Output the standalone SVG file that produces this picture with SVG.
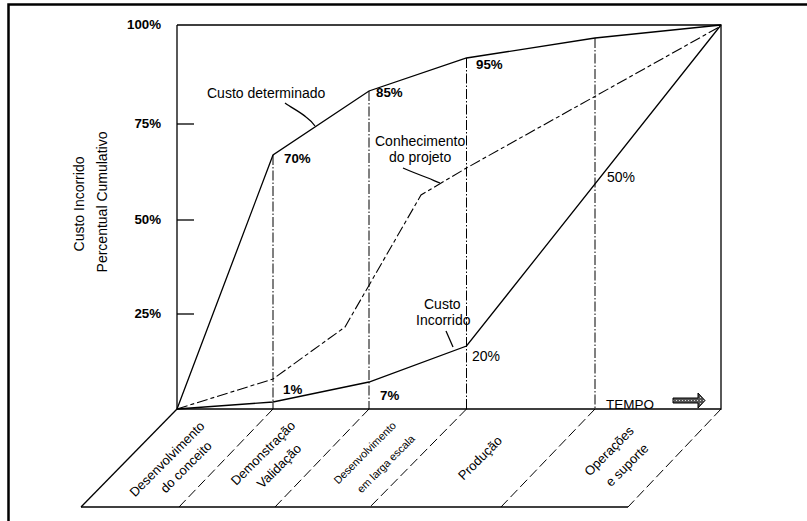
<svg xmlns="http://www.w3.org/2000/svg" width="807" height="521" viewBox="0 0 807 521">
<style>
text{font-family:"Liberation Sans",Arial,sans-serif;fill:#000}
.b{font-weight:bold;font-size:13.3px}
.r{font-size:14px}
.p{font-size:13px}
.s{font-size:10.8px}
.ln{fill:none;stroke:#000;stroke-width:1.3}
.dv{fill:none;stroke:#000;stroke-width:1;stroke-dasharray:10,2,1.5,2}
.dd{fill:none;stroke:#000;stroke-width:1;stroke-dasharray:10,4}
.kn{fill:none;stroke:#000;stroke-width:1.1;stroke-dasharray:11,3,4,3}
</style>
<defs>
<pattern id="hatch" width="3" height="3" patternUnits="userSpaceOnUse">
<rect width="3" height="3" fill="#555"/>
<rect x="1" y="1" width="1" height="1" fill="#ddd"/>
</pattern>
</defs>
<rect width="807" height="521" fill="#fff"/>
<rect x="8.5" y="4.5" width="900" height="600" fill="none" stroke="#000" stroke-width="2.5"/>

<g id="axes">
<polyline class="ln" points="177,25 721,25 721,409 177,409 177,25"/>
<line class="ln" x1="177" y1="124" x2="194" y2="124"/>
<line class="ln" x1="177" y1="220" x2="194" y2="220"/>
<line class="ln" x1="177" y1="314" x2="194" y2="314"/>
<text class="b" x="161" y="29" text-anchor="end">100%</text>
<text class="b" x="161" y="128" text-anchor="end">75%</text>
<text class="b" x="161" y="224" text-anchor="end">50%</text>
<text class="b" x="161" y="318" text-anchor="end">25%</text>
<text class="r" transform="translate(84,204) rotate(-90)" text-anchor="middle">Custo Incorrido</text>
<text class="r" transform="translate(107,202) rotate(-90)" text-anchor="middle">Percentual Cumulativo</text>
</g>

<g id="connectors">
<line class="dv" x1="273" y1="155" x2="273" y2="409"/>
<line class="dv" x1="369" y1="91" x2="369" y2="409"/>
<line class="dv" x1="466.5" y1="58" x2="466.5" y2="409"/>
<line class="dv" x1="595" y1="38" x2="595" y2="409"/>
</g>

<g id="custo-determinado">
<polyline class="ln" points="177,409 273,155 369,91 466.5,58 595,38 721,25"/>
<text class="r" x="207" y="98">Custo determinado</text>
<path class="ln" d="M285,103 C292,108 300,112 306,117 C310,120 313,123 315,126" stroke-width="1"/>
<text class="b" x="284" y="163">70%</text>
<text class="b" x="376" y="97">85%</text>
<text class="b" x="476" y="69">95%</text>
</g>

<g id="conhecimento">
<polyline class="kn" points="177,409 273,379 345,327 421,195 466.5,168 721,26"/>
<text class="r" x="375" y="146">Conhecimento</text>
<text class="r" x="389" y="162">do projeto</text>
<path class="ln" d="M403,168 C412,172 420,175 428,178 C433,180 437,182 440,183" stroke-width="1"/>
</g>

<g id="custo-incorrido">
<polyline class="ln" points="177,409 273,402 369,382 466.5,346 721,25"/>
<text class="r" x="424" y="309">Custo</text>
<text class="r" x="416" y="325">Incorrido</text>
<line class="ln" x1="446" y1="331" x2="453" y2="347" stroke-width="1"/>
<text class="r" x="472" y="361">20%</text>
<text class="r" x="607" y="182">50%</text>
<text class="b" x="283" y="394">1%</text>
<text class="b" x="380" y="400">7%</text>
</g>

<g id="tempo">
<text x="606" y="409" style="font-size:13.5px">TEMPO</text>
<path d="M673,398 L698,398 L698,393 L705,400.5 L698,408 L698,403 L673,403 Z" fill="url(#hatch)" stroke="#000" stroke-width="1"/>
</g>

<g id="fases">
<line class="ln" x1="177" y1="409" x2="81" y2="507"/>
<line class="ln" x1="81" y1="507" x2="628" y2="507"/>
<line class="dd" x1="273" y1="409" x2="179" y2="507"/>
<line class="dd" x1="369" y1="409" x2="275" y2="507"/>
<line class="dd" x1="466.5" y1="409" x2="370" y2="507"/>
<line class="dd" x1="595" y1="409" x2="501" y2="507"/>
<line class="dd" x1="721" y1="409" x2="628" y2="507"/>
<text class="p" transform="translate(167,459) rotate(-45)" text-anchor="middle" dy="4.5">Desenvolvimento</text>
<text class="p" transform="translate(186,467) rotate(-45)" text-anchor="middle" dy="4.5">do conceito</text>
<text class="p" transform="translate(263,453) rotate(-45)" text-anchor="middle" dy="4.5">Demonstração</text>
<text class="p" transform="translate(279,466) rotate(-45)" text-anchor="middle" dy="4.5">Validação</text>
<text class="s" transform="translate(365,453) rotate(-45)" text-anchor="middle" dy="3.5">Desenvolvimento</text>
<text class="s" transform="translate(386,464) rotate(-45)" text-anchor="middle" dy="3.5">em larga escala</text>
<text class="p" transform="translate(480,458) rotate(-45)" text-anchor="middle" dy="4.5">Produção</text>
<text class="p" transform="translate(609,451) rotate(-45)" text-anchor="middle" dy="4.5">Operações</text>
<text class="p" transform="translate(627,465) rotate(-45)" text-anchor="middle" dy="4.5">e suporte</text>
</g>
</svg>
